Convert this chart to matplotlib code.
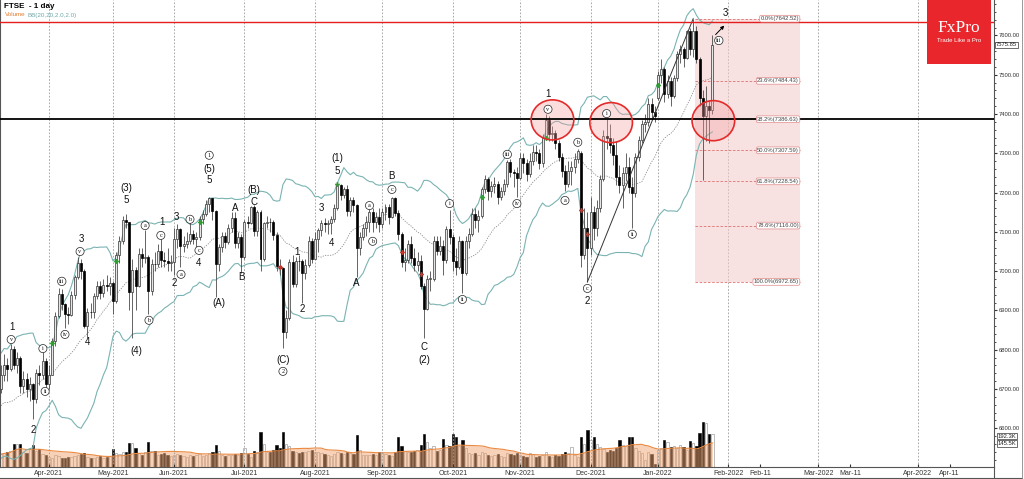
import numpy as np
import pandas as pd
import matplotlib
matplotlib.use("Agg")
import matplotlib.pyplot as plt
from matplotlib.patches import Ellipse, Rectangle
from matplotlib.lines import Line2D

plt.rcParams['font.family'] = ['Liberation Sans', 'DejaVu Sans']

# ---- bars: FTSE daily, 11 Mar 2021 .. 27 Jan 2022 (UK trading days) ----
uk_holidays = ['2021-04-02', '2021-04-05', '2021-05-03', '2021-05-31',
               '2021-08-30', '2021-12-27', '2021-12-28', '2022-01-03']
dates = pd.bdate_range('2021-03-11', '2022-01-27')
dates = dates[~dates.isin(pd.to_datetime(uk_holidays))]

opens = [
    # Mar
    6700, 6737, 6761, 6750, 6803, 6762, 6779, 6709, 6726, 6699, 6712, 6674, 6740, 6736, 6772,
    # Apr
    6714, 6737, 6823, 6885, 6942, 6916, 6890, 6889, 6939, 6984, 7020, 7000, 6860, 6896, 6895, 6938, 6963, 6945, 6964, 6961,
    # May
    6970, 6923, 7040, 7076, 7130, 7124, 6948, 7004, 6963, 7044, 7033, 7035, 6950, 7019, 7018, 7051, 7029, 7026, 7020,
    # Jun
    7023, 7081, 7108, 7064, 7069, 7077, 7095, 7081, 7088, 7134, 7146, 7172, 7185, 7153, 7017, 7062, 7090, 7074, 7109, 7136, 7072, 7088,
    # Jul
    7037, 7126, 7123, 7164, 7101, 7151, 7031, 7122, 7125, 7124, 7092, 7012, 7008, 6844, 6882, 7024, 6968, 7027, 7025, 6996, 7016, 7078,
    # Aug
    7032, 7081, 7105, 7123, 7120, 7122, 7132, 7161, 7220, 7193, 7210, 7153, 7181, 7169, 7058, 7087, 7109, 7125, 7150, 7124, 7138,
    # Sep
    7119, 7150, 7164, 7138, 7187, 7149, 7095, 7024, 7029, 7068, 7034, 7016, 7027, 6963, 6903, 6980, 6980, 7078, 7051, 7063, 7028, 7108,
    # Oct
    7086, 7027, 7011, 7077, 6995, 7078, 7095, 7146, 7130, 7141, 7208, 7234, 7203, 7217, 7223, 7190, 7205, 7222, 7277, 7253, 7249,
    # Nov
    7238, 7288, 7274, 7248, 7280, 7304, 7300, 7274, 7340, 7384, 7348, 7352, 7326, 7291, 7255, 7223, 7255, 7266, 7286, 7300, 7040, 7110,
    # Dec
    7059, 7150, 7110, 7160, 7235, 7345, 7340, 7320, 7295, 7240, 7220, 7250, 7265, 7215, 7200, 7290, 7335, 7375, 7380, 7425, 7405,
    # Jan
    7440, 7500, 7515, 7450, 7485, 7445, 7492, 7552, 7565, 7543, 7610, 7565, 7610, 7540, 7440, 7395, 7420, 7410,
]
highs = [
    6760, 6790, 6780, 6815, 6810, 6795, 6785, 6745, 6740, 6730, 6715, 6750, 6760, 6795, 6780,
    6760, 6830, 6895, 6957, 6955, 6920, 6910, 6950, 6990, 7035, 7030, 7005, 6905, 6920, 6945, 6975, 6975, 6980, 6990, 6985,
    6975, 7050, 7090, 7140, 7145, 7125, 7030, 7010, 7060, 7060, 7105, 7040, 7030, 7050, 7070, 7085, 7050, 7060, 7040,
    7110, 7120, 7110, 7090, 7100, 7125, 7105, 7100, 7140, 7155, 7180, 7190, 7186, 7155, 7070, 7100, 7100, 7120, 7150, 7150, 7100, 7095,
    7130, 7140, 7165, 7168, 7155, 7155, 7125, 7140, 7135, 7130, 7100, 7030, 7010, 6900, 7030, 7040, 7035, 7040, 7030, 7030, 7090, 7085,
    7100, 7110, 7130, 7135, 7130, 7140, 7170, 7223, 7222, 7215, 7220, 7190, 7190, 7170, 7100, 7120, 7140, 7160, 7160, 7150, 7160,
    7160, 7170, 7170, 7188, 7190, 7155, 7100, 7060, 7080, 7090, 7060, 7050, 7040, 6970, 6990, 7000, 7090, 7090, 7090, 7080, 7115, 7155,
    7095, 7060, 7090, 7080, 7090, 7110, 7160, 7160, 7155, 7215, 7245, 7240, 7230, 7240, 7230, 7215, 7235, 7283, 7285, 7260, 7265,
    7300, 7300, 7285, 7300, 7320, 7320, 7310, 7350, 7400, 7395, 7370, 7360, 7335, 7300, 7270, 7280, 7280, 7300, 7310, 7305, 7160, 7150,
    7190, 7165, 7180, 7245, 7360, 7386, 7375, 7340, 7330, 7270, 7265, 7300, 7290, 7240, 7300, 7345, 7385, 7400, 7440, 7440, 7420,
    7510, 7540, 7520, 7500, 7495, 7500, 7560, 7575, 7570, 7615, 7620, 7642.52, 7625, 7545, 7460, 7470, 7435, 7600,
]
lows = [
    6690, 6720, 6720, 6745, 6750, 6740, 6690, 6690, 6680, 6670, 6625, 6665, 6710, 6725, 6700,
    6700, 6735, 6810, 6880, 6900, 6855, 6865, 6885, 6930, 6980, 6980, 6855, 6830, 6880, 6880, 6930, 6930, 6935, 6950, 6940,
    6890, 6920, 7020, 7070, 7110, 6900, 6830, 6900, 6960, 7010, 7020, 6890, 6940, 7000, 7010, 7010, 7010, 7000, 7000,
    6990, 7060, 7010, 7050, 7060, 7070, 7070, 7060, 7080, 7120, 7140, 7150, 7130, 6935, 7000, 7050, 7060, 7070, 7100, 7060, 7060, 6995,
    7030, 7110, 7120, 7090, 7090, 7000, 7025, 7110, 7100, 7080, 7000, 6990, 6805, 6830, 6875, 6960, 6960, 7000, 6920, 6980, 7010, 7020,
    7030, 7050, 7090, 7100, 7095, 7095, 7125, 7155, 7180, 7185, 7140, 7140, 7150, 6985, 7040, 7080, 7090, 7100, 7100, 7110, 7100,
    7110, 7130, 7120, 7135, 7140, 7080, 7010, 7000, 7020, 7020, 7000, 7000, 6955, 6830, 6900, 6950, 6975, 7040, 7040, 6990, 7020, 7070,
    7000, 6990, 7005, 6945, 6990, 7060, 7090, 7110, 7100, 7135, 7200, 7180, 7190, 7200, 7170, 7180, 7195, 7215, 7240, 7215, 7190,
    7235, 7250, 7230, 7240, 7270, 7280, 7260, 7265, 7335, 7330, 7330, 7310, 7280, 7240, 7205, 7215, 7220, 7250, 7275, 7010, 7030, 6972.65,
    7040, 7080, 7090, 7150, 7230, 7310, 7300, 7270, 7220, 7200, 7160, 7230, 7200, 7110, 7190, 7280, 7325, 7355, 7370, 7390, 7380,
    7435, 7480, 7430, 7440, 7420, 7440, 7485, 7530, 7520, 7540, 7550, 7545, 7530, 7420, 7233, 7330, 7325, 7400,
]
closes = [
    6737, 6761, 6750, 6803, 6762, 6779, 6709, 6726, 6699, 6712, 6674, 6740, 6736, 6772, 6714,
    6737, 6823, 6885, 6942, 6916, 6890, 6889, 6939, 6984, 7020, 7000, 6860, 6896, 6895, 6938, 6963, 6945, 6964, 6961, 6970,
    6923, 7040, 7076, 7130, 7124, 6948, 7004, 6963, 7044, 7033, 7035, 6950, 7019, 7018, 7051, 7029, 7026, 7020, 7023,
    7081, 7108, 7064, 7069, 7077, 7095, 7081, 7088, 7134, 7146, 7172, 7185, 7153, 7017, 7062, 7090, 7074, 7109, 7136, 7072, 7088, 7037,
    7126, 7123, 7164, 7101, 7151, 7031, 7122, 7125, 7124, 7092, 7012, 7008, 6844, 6882, 7024, 6968, 7027, 7025, 6996, 7016, 7078, 7032,
    7081, 7105, 7123, 7120, 7122, 7132, 7161, 7220, 7193, 7210, 7153, 7181, 7169, 7058, 7087, 7109, 7125, 7150, 7124, 7138, 7119,
    7150, 7164, 7138, 7187, 7149, 7095, 7024, 7029, 7068, 7034, 7016, 7027, 6963, 6903, 6980, 6980, 7078, 7051, 7063, 7028, 7108, 7086,
    7027, 7011, 7077, 6995, 7078, 7095, 7146, 7130, 7141, 7208, 7234, 7203, 7217, 7223, 7190, 7205, 7222, 7277, 7253, 7249, 7238,
    7288, 7274, 7248, 7280, 7304, 7300, 7274, 7340, 7384, 7348, 7352, 7326, 7291, 7255, 7223, 7255, 7266, 7286, 7305, 7040, 7110, 7059,
    7150, 7110, 7160, 7235, 7345, 7340, 7320, 7295, 7240, 7220, 7250, 7265, 7215, 7200, 7290, 7335, 7375, 7380, 7425, 7405, 7395,
    7500, 7515, 7450, 7485, 7445, 7492, 7552, 7565, 7543, 7610, 7565, 7610, 7540, 7440, 7395, 7420, 7410, 7575.85,
]
volumes = [  # thousands
    75, 83, 89, 94, 136, 136, 136, 89, 79, 102, 126, 94, 102, 75, 70,
    60, 55, 70, 65, 50, 55, 60, 58, 62, 70, 75, 80, 60, 55, 50, 58, 62, 55, 60, 65,
    104, 80, 75, 85, 90, 140, 140, 108, 80, 70, 85, 145, 94, 94, 70, 75, 80, 70, 65,
    70, 75, 72, 65, 60, 68, 62, 70, 75, 66, 72, 80, 90, 126, 95, 70, 65, 72, 68, 75, 70, 80,
    108, 75, 60, 95, 85, 206, 136, 90, 85, 100, 126, 110, 206, 136, 120, 95, 85, 80, 90, 85, 95, 100,
    90, 85, 80, 75, 70, 65, 75, 85, 80, 75, 85, 80, 78, 189, 100, 70, 68, 72, 75, 70, 90,
    80, 75, 70, 65, 85, 174, 120, 95, 85, 90, 95, 100, 130, 192, 145, 110, 120, 95, 100, 164, 130, 120,
    192, 174, 120, 158, 110, 80, 75, 80, 70, 85, 80, 70, 65, 70, 75, 65, 60, 80, 75, 70, 80,
    70, 65, 60, 80, 75, 60, 62, 70, 90, 65, 60, 70, 65, 75, 90, 80, 117, 70, 60, 174, 136, 215,
    155, 174, 136, 115, 105, 90, 100, 95, 110, 155, 130, 120, 174, 174, 110, 95, 80, 40, 85, 75, 15,
    98, 110, 155, 145, 115, 120, 110, 130, 115, 100, 150, 140, 125, 200, 265, 255, 190, 192.3,
]
# closes before the first visible bar, only used to seed the bands
warmup_closes = [6528, 6589, 6756, 6748, 6710, 6617, 6624, 6612, 6625, 6659,
                 6651, 6483, 6588, 6614, 6675, 6651, 6630, 6719, 6730, 6726]
vol_ma_label = 145.5

fib_high, fib_low = 7642.52, 6972.65
fib_pcts = [0.0, 23.6, 38.2, 50.0, 61.8, 78.6, 100.0]
resistance = 7635
support = 7386.63

# elliott wave labels (bar index, price, text)
wave_x = [3.4, 10, 25, 26.9, 39, 39, 42.2, 50.2, 54.9, 54, 61.8, 65, 65, 68, 73, 75.2, 79, 79, 88,
          92.4, 94, 105, 105, 100, 103, 111, 122, 132, 132, 170.7, 183, 226]
wave_y = [6859, 6597, 7081, 6819, 7211, 7180, 6798, 7124, 7137, 6971, 7022, 7261, 7231, 6918, 7160,
          6984, 7206, 7175, 6775, 7050, 6903, 7287, 7254, 7160, 7071, 6969, 7241, 6808, 6775, 7450, 6923, 7656]
wave_txt = ['1', '2', '3', '4', '(3)', '5', '(4)', '1', '3', '2', '4', '(5)', '5', '(A)', 'A', 'B',
            '(B)', 'C', '(C)', '1', '2', '(1)', '5', '3', '4', 'A', 'B', 'C', '(2)', '1', '2', '3']
circ_x = [3.2, 13.1, 13.8, 19, 20, 24.7, 45, 46.2, 49.9, 56.2, 59, 61.8, 65, 88, 115, 116, 122,
          140, 144, 158, 161, 176, 180, 183, 170.7, 189, 197, 224]
circ_y = [6826, 6803, 6694, 6974, 6839, 7050, 7116, 6875, 7091, 6992, 7132, 7053, 7295, 6745, 7167,
          7076, 7208, 7172, 6928, 7297, 7172, 7180, 7328, 6956, 7412, 7401, 7094, 7587]
circ_txt = ['v', 'i', 'ii', 'iii', 'iv', 'v', 'a', 'b', 'c', 'a', 'b', 'c', '1', '2', 'a', 'b', 'c',
            'i', 'ii', 'iii', 'iv', 'a', 'b', 'c', 'v', 'i', 'ii', 'iii']

green_x = [16, 36, 62, 105, 150, 170, 205]
green_y = [6816, 7025, 7124, 7223, 7190, 7340, 7475]
red_x = [87, 125, 131, 181, 183]
red_y = [7011, 7049, 6993, 7156, 7095]

ellipse_x = [172.1, 190.4, 222.3]
ellipse_y = [7385, 7378, 7383]

# ---- derived ----------------------------------------------------------
o = np.array(opens, float)
h = np.array(highs, float)
l = np.array(lows, float)
c = np.array(closes, float)
v = np.array(volumes, float)
x = np.arange(len(c))
up = c >= o

allc = pd.Series(warmup_closes + closes, dtype=float)
mid = allc.rolling(20).mean().to_numpy()[-len(c):]
sd = allc.rolling(20).std(ddof=0).to_numpy()[-len(c):]
bb_up, bb_lo = mid + 2 * sd, mid - 2 * sd
vol_ma = pd.Series(v).rolling(20, min_periods=1).mean().to_numpy()

# ---- figure -----------------------------------------------------------
W, H = 1024, 479
fig = plt.figure(figsize=(W / 100, H / 100), dpi=100)
ax = fig.add_axes([0, 12 / H, 994 / W, 467 / H])
axv = ax.twinx()
ax.set_zorder(axv.get_zorder() + 1)
ax.patch.set_visible(False)

xmin, xmax = -0.28, 309.86
ax.set_xlim(xmin, xmax)
ax.set_ylim(6501.6, 7690.1)
axv.set_ylim(0, 2720)
axv.set_yticks([])
for s in axv.spines.values():
    s.set_visible(False)

# month grid + ticks
months = dates.to_period('M')
first = [i for i in range(1, len(dates)) if months[i] != months[i - 1]]
tick_pos = list(first)
tick_lab = [dates[i].strftime('%b-%Y') for i in first]
last_i, last_d = len(dates) - 1, dates[-1]
future = ['2022-02-01', '2022-02-11', '2022-03-01', '2022-03-11', '2022-04-01', '2022-04-11']
for f in future:
    fd = pd.Timestamp(f)
    tick_pos.append(last_i + (fd - last_d).days)
    tick_lab.append(fd.strftime('%b-%Y') if fd.day == 1 else fd.strftime('%b-%d'))
for p, lab in zip(tick_pos, tick_lab):
    if '-20' in lab:
        ax.axvline(p, color='#9a9a9a', lw=0.6, ls=(0, (2, 2)), zorder=0)
ax.set_xticks(tick_pos)
ax.set_xticklabels(tick_lab)
ax.tick_params(axis='x', direction='in', length=2, labelsize=5, pad=2, colors='#333333')

ax.yaxis.tick_right()
yt = np.arange(6600, 7601, 100)
ax.set_yticks(yt)
ax.set_yticklabels([f'{t:.2f}' for t in yt])
ax.set_yticks(np.arange(6520, 7690, 20), minor=True)
ax.tick_params(axis='y', which='major', direction='out', length=2.5, labelsize=4.2, pad=1, colors='#333333')
ax.tick_params(axis='y', which='minor', direction='out', length=1.5, colors='#333333')
for s in ax.spines.values():
    s.set_color('#555555')
    s.set_linewidth(0.8)
ax.spines['top'].set_visible(False)

# volume
axv.bar(x[up], v[up], width=0.7, color='white', edgecolor='#8a8a8a', lw=0.4, zorder=2)
axv.bar(x[~up], v[~up], width=0.7, color='black', edgecolor='black', lw=0.4, zorder=2)
axv.fill_between(x, 0, vol_ma, color='#f3a772', alpha=0.5, lw=0, zorder=3)
axv.plot(x, vol_ma, color='#ea8a42', lw=0.8, zorder=4)
for val, lab, dy in [(v[-1], f'{v[-1]:.1f}K', -1.5), (vol_ma_label, f'{vol_ma_label:.1f}K', -1.0)]:
    axv.annotate(lab, xy=(1.0, val), xycoords=axv.get_yaxis_transform(), xytext=(2.5, dy),
                 textcoords='offset points', ha='left', va='center', fontsize=4.2, color='#222222',
                 annotation_clip=False,
                 bbox=dict(boxstyle='square,pad=0.12', fc='white', ec='#333333', lw=0.5))

# fib retracement
fx0, fx1 = 216.6, 249.3
ax.add_patch(Rectangle((fx0, fib_low), fx1 - fx0, fib_high - fib_low, facecolor='#f4caca',
                       alpha=0.55, lw=0, zorder=1))
for pct in fib_pcts:
    lvl = fib_high - pct / 100 * (fib_high - fib_low)
    ax.plot([fx0, fx1], [lvl, lvl], color='#e07070', lw=0.6, ls=(0, (3, 2)), zorder=2)
    ax.text(fx1 - 0.3, lvl, f'{pct:.1f}%({round(lvl + 1e-9, 2):.2f})', ha='right', va='center',
            fontsize=4.2, color='#444444', zorder=8,
            bbox=dict(boxstyle='round,pad=0.15,rounding_size=0.3', fc='white', ec='#e08a8a', lw=0.5))
ax.plot([183, 216], [fib_low, fib_high], color='#333333', lw=0.7, zorder=5)

# bollinger bands
ax.plot(x, bb_up, color='#7ab3b3', lw=0.8, zorder=2)
ax.plot(x, bb_lo, color='#7ab3b3', lw=0.8, zorder=2)
ax.plot(x, mid, color='#8c8c8c', lw=0.6, ls=(0, (1.5, 1.5)), zorder=2)

# candles
ax.vlines(x, l, h, color='#4a4a4a', lw=0.6, zorder=3)
body = np.maximum(np.abs(c - o), 1.5)
ax.bar(x[up], body[up], bottom=o[up], width=0.62, color='#e6e6e6', edgecolor='#333333', lw=0.5, zorder=4)
ax.bar(x[~up], body[~up], bottom=c[~up], width=0.62, color='black', edgecolor='black', lw=0.5, zorder=4)

ax.plot(green_x, green_y, 'P', color='#2f9e2f', ms=3.5, mew=0, zorder=6)
ax.plot(red_x, red_y, 'P', color='#c43a2f', ms=3.5, mew=0, zorder=6)

# levels
ax.axhline(resistance, color='#e41e1e', lw=1.0, zorder=6)
ax.axhline(support, color='black', lw=1.3, zorder=6)

for ex, ey in zip(ellipse_x, ellipse_y):
    ax.add_patch(Ellipse((ex, ey), 13.3, 102, facecolor='#f5a0a0', alpha=0.35, lw=0, zorder=5))
    ax.add_patch(Ellipse((ex, ey), 13.3, 102, facecolor='none', edgecolor='#e52a2a', lw=1.2, zorder=7))

# wave labels
for wx, wy, t in zip(wave_x, wave_y, wave_txt):
    ax.text(wx, wy, t, ha='center', va='center', fontsize=7, color='#111111', zorder=9)
for wx, wy, t in zip(circ_x, circ_y, circ_txt):
    ax.text(wx, wy, t, ha='center', va='center', fontsize=4.5, color='#111111', zorder=9,
            family='Liberation Serif',
            bbox=dict(boxstyle='circle,pad=0.25', fc='white', ec='#222222', lw=0.5))
ax.annotate('', xy=(226.3, 7630), xytext=(222.4, 7597),
            arrowprops=dict(arrowstyle='-|>', color='black', lw=0.7, mutation_scale=5), zorder=9)

# current price tag
ax.annotate(f'{c[-1]:.2f}', xy=(1.0, c[-1]), xycoords=ax.get_yaxis_transform(), xytext=(1.5, 0),
            textcoords='offset points', ha='left', va='center', fontsize=4.2, color='#222222',
            annotation_clip=False,
            bbox=dict(boxstyle='square,pad=0.12', fc='white', ec='#333333', lw=0.5))

# header texts
ax.text(4 / 994, 1 - 6 / 467, 'FTSE  - 1 day', transform=ax.transAxes, ha='left', va='center',
        fontsize=5.8, fontweight='bold', color='black')
ax.text(5 / 994, 1 - 15 / 467, 'Volume', transform=ax.transAxes, ha='left', va='center',
        fontsize=4.5, color='#e07b30')
ax.text(27 / 994, 1 - 15 / 467, 'BB(20,20,2.0,2.0)', transform=ax.transAxes, ha='left', va='center',
        fontsize=4.5, color='#6fa8a8')

# logo
fig.add_artist(Rectangle((927 / W, 1 - 64 / H), 64 / W, 64 / H, transform=fig.transFigure,
                         facecolor='#e8262c', lw=0, zorder=10))
fig.text(959 / W, 1 - 28 / H, 'FxPro', ha='center', va='center', fontsize=12.5,
         family='Liberation Serif', color='white', zorder=11)
fig.text(959 / W, 1 - 41 / H, 'Trade Like a Pro', ha='center', va='center', fontsize=4.3,
         color='white', zorder=11)

# outer frame
fig.add_artist(Line2D([994 / W, 994 / W], [1.5 / H, 12 / H], transform=fig.transFigure, color='#555555', lw=0.8))
fig.add_artist(Line2D([0, 1022 / W], [1.5 / H, 1.5 / H], transform=fig.transFigure, color='#555555', lw=0.8))
fig.add_artist(Line2D([1022 / W, 1022 / W], [1.5 / H, 1], transform=fig.transFigure, color='#888888', lw=0.6))

fig.savefig('out.png', dpi=100)
